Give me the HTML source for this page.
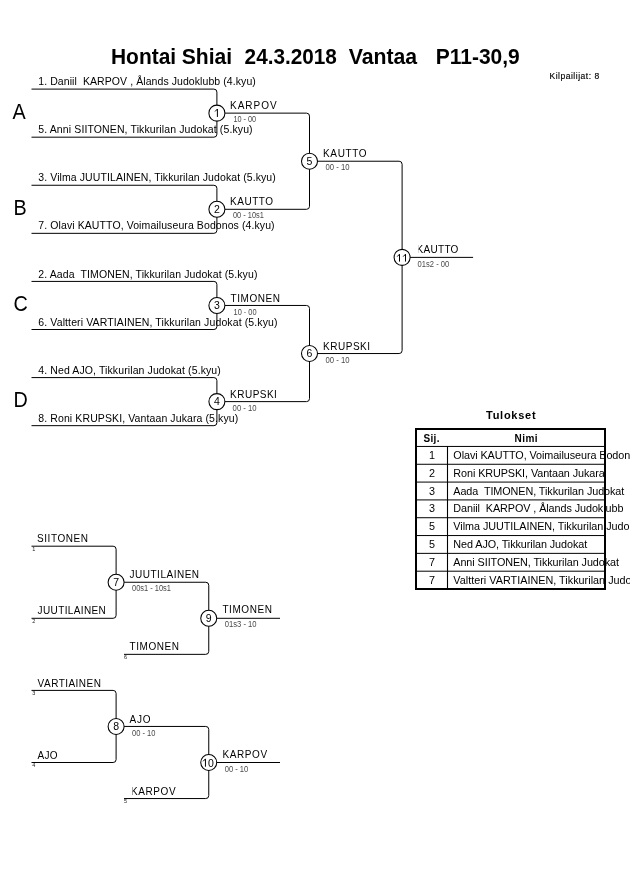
<!DOCTYPE html>
<html><head><meta charset="utf-8"><style>
html,body{margin:0;padding:0;background:#fff;width:630px;height:891px;overflow:hidden}
svg{position:absolute;left:0;top:0;font-family:"Liberation Sans", sans-serif} text{white-space:pre} svg{will-change:transform}
</style></head><body>
<svg width="630" height="891" viewBox="0 0 630 891">
<text x="111.00" y="64.00" font-size="22" font-weight="700" fill="#000" textLength="65.1" lengthAdjust="spacingAndGlyphs">Hontai</text>
<text x="181.70" y="64.00" font-size="22" font-weight="700" fill="#000" textLength="50.4" lengthAdjust="spacingAndGlyphs">Shiai</text>
<text x="244.60" y="64.00" font-size="22" font-weight="700" fill="#000" textLength="92.3" lengthAdjust="spacingAndGlyphs">24.3.2018</text>
<text x="348.70" y="64.00" font-size="22" font-weight="700" fill="#000" textLength="68.5" lengthAdjust="spacingAndGlyphs">Vantaa</text>
<text x="435.70" y="64.00" font-size="22" font-weight="700" fill="#000" textLength="84.1" lengthAdjust="spacingAndGlyphs">P11-30,9</text>
<text x="549.50" y="79.00" font-size="8.5" font-weight="400" fill="#000" textLength="49.7" lengthAdjust="spacing" stroke="#000" stroke-width="0.15">Kilpailijat: 8</text>
<text x="38.30" y="85.00" font-size="10.5" font-weight="400" fill="#000" textLength="217.5" lengthAdjust="spacing">1. Daniil  KARPOV , Ålands Judoklubb (4.kyu)</text>
<text x="38.30" y="133.00" font-size="10.5" font-weight="400" fill="#000" textLength="214.3" lengthAdjust="spacing">5. Anni SIITONEN, Tikkurilan Judokat (5.kyu)</text>
<text x="38.30" y="181.00" font-size="10.5" font-weight="400" fill="#000" textLength="237.5" lengthAdjust="spacing">3. Vilma JUUTILAINEN, Tikkurilan Judokat (5.kyu)</text>
<text x="38.30" y="229.00" font-size="10.5" font-weight="400" fill="#000" textLength="236.3" lengthAdjust="spacing">7. Olavi KAUTTO, Voimailuseura Bodonos (4.kyu)</text>
<text x="38.30" y="278.00" font-size="10.5" font-weight="400" fill="#000" textLength="219.1" lengthAdjust="spacing">2. Aada  TIMONEN, Tikkurilan Judokat (5.kyu)</text>
<text x="38.30" y="326.00" font-size="10.5" font-weight="400" fill="#000" textLength="239.2" lengthAdjust="spacing">6. Valtteri VARTIAINEN, Tikkurilan Judokat (5.kyu)</text>
<text x="38.30" y="374.00" font-size="10.5" font-weight="400" fill="#000" textLength="182.5" lengthAdjust="spacing">4. Ned AJO, Tikkurilan Judokat (5.kyu)</text>
<text x="38.30" y="422.00" font-size="10.5" font-weight="400" fill="#000" textLength="199.9" lengthAdjust="spacing">8. Roni KRUPSKI, Vantaan Jukara (5.kyu)</text>
<text transform="translate(12.6,119) scale(0.9,1)" font-size="22">A</text>
<text transform="translate(13.5,215) scale(0.9,1)" font-size="22">B</text>
<text transform="translate(13.5,311) scale(0.9,1)" font-size="22">C</text>
<text transform="translate(13.5,407) scale(0.9,1)" font-size="22">D</text>
<text x="230.00" y="109.00" font-size="10" font-weight="400" fill="#000" textLength="46.7" lengthAdjust="spacing">KARPOV</text>
<text x="233.40" y="122.00" font-size="8.5" font-weight="400" fill="#4a4a4a" textLength="22.8" lengthAdjust="spacingAndGlyphs">10 - 00</text>
<text x="230.10" y="205.00" font-size="10" font-weight="400" fill="#000" textLength="42.9" lengthAdjust="spacing">KAUTTO</text>
<text x="233.00" y="218.00" font-size="8.5" font-weight="400" fill="#4a4a4a" textLength="30.8" lengthAdjust="spacingAndGlyphs">00 - 10s1</text>
<text x="230.50" y="302.00" font-size="10" font-weight="400" fill="#000" textLength="49.5" lengthAdjust="spacing">TIMONEN</text>
<text x="233.50" y="315.00" font-size="8.5" font-weight="400" fill="#4a4a4a" textLength="23.1" lengthAdjust="spacingAndGlyphs">10 - 00</text>
<text x="230.10" y="398.00" font-size="10" font-weight="400" fill="#000" textLength="46.8" lengthAdjust="spacing">KRUPSKI</text>
<text x="232.60" y="411.00" font-size="8.5" font-weight="400" fill="#4a4a4a" textLength="24.0" lengthAdjust="spacingAndGlyphs">00 - 10</text>
<text x="323.10" y="157.00" font-size="10" font-weight="400" fill="#000" textLength="43.4" lengthAdjust="spacing">KAUTTO</text>
<text x="325.50" y="170.00" font-size="8.5" font-weight="400" fill="#4a4a4a" textLength="24.0" lengthAdjust="spacingAndGlyphs">00 - 10</text>
<text x="323.10" y="350.00" font-size="10" font-weight="400" fill="#000" textLength="46.9" lengthAdjust="spacing">KRUPSKI</text>
<text x="325.50" y="363.00" font-size="8.5" font-weight="400" fill="#4a4a4a" textLength="24.0" lengthAdjust="spacingAndGlyphs">00 - 10</text>
<text x="416.60" y="253.00" font-size="10" font-weight="400" fill="#000" textLength="41.8" lengthAdjust="spacing">KAUTTO</text>
<text x="417.60" y="267.00" font-size="8.5" font-weight="400" fill="#4a4a4a" textLength="31.6" lengthAdjust="spacingAndGlyphs">01s2 - 00</text>
<text x="32.30" y="550.80" font-size="5.5" font-weight="400" fill="#222">1</text>
<text x="32.30" y="622.90" font-size="5.5" font-weight="400" fill="#222">2</text>
<text x="123.90" y="658.95" font-size="5.5" font-weight="400" fill="#222">6</text>
<text x="32.30" y="695.00" font-size="5.5" font-weight="400" fill="#222">3</text>
<text x="32.30" y="767.10" font-size="5.5" font-weight="400" fill="#222">4</text>
<text x="123.90" y="803.15" font-size="5.5" font-weight="400" fill="#222">5</text>
<text x="37.00" y="542.00" font-size="10" font-weight="400" fill="#000" textLength="51.1" lengthAdjust="spacing">SIITONEN</text>
<text x="37.60" y="614.00" font-size="10" font-weight="400" fill="#000" textLength="68.2" lengthAdjust="spacing">JUUTILAINEN</text>
<text x="129.50" y="578.00" font-size="10" font-weight="400" fill="#000" textLength="69.6" lengthAdjust="spacing">JUUTILAINEN</text>
<text x="222.40" y="613.00" font-size="10" font-weight="400" fill="#000" textLength="49.5" lengthAdjust="spacing">TIMONEN</text>
<text x="129.50" y="650.00" font-size="10" font-weight="400" fill="#000" textLength="49.6" lengthAdjust="spacing">TIMONEN</text>
<text x="37.60" y="687.00" font-size="10" font-weight="400" fill="#000" textLength="63.3" lengthAdjust="spacing">VARTIAINEN</text>
<text x="37.60" y="759.00" font-size="10" font-weight="400" fill="#000" textLength="20.0" lengthAdjust="spacing">AJO</text>
<text x="129.50" y="723.00" font-size="10" font-weight="400" fill="#000" textLength="21.0" lengthAdjust="spacing">AJO</text>
<text x="222.40" y="758.00" font-size="10" font-weight="400" fill="#000" textLength="44.7" lengthAdjust="spacing">KARPOV</text>
<text x="130.90" y="795.00" font-size="10" font-weight="400" fill="#000" textLength="44.7" lengthAdjust="spacing">KARPOV</text>
<text x="132.00" y="591.00" font-size="8.5" font-weight="400" fill="#4a4a4a" textLength="38.9" lengthAdjust="spacingAndGlyphs">00s1 - 10s1</text>
<text x="224.80" y="627.00" font-size="8.5" font-weight="400" fill="#4a4a4a" textLength="31.8" lengthAdjust="spacingAndGlyphs">01s3 - 10</text>
<text x="132.00" y="736.00" font-size="8.5" font-weight="400" fill="#4a4a4a" textLength="23.4" lengthAdjust="spacingAndGlyphs">00 - 10</text>
<text x="224.70" y="772.00" font-size="8.5" font-weight="400" fill="#4a4a4a" textLength="23.6" lengthAdjust="spacingAndGlyphs">00 - 10</text>
<text x="486.00" y="419.00" font-size="11" font-weight="700" fill="#000" textLength="49.6" lengthAdjust="spacing">Tulokset</text>
<text x="423.50" y="441.50" font-size="10" font-weight="700" fill="#000" textLength="16.0" lengthAdjust="spacing">Sij.</text>
<text x="514.50" y="441.50" font-size="10" font-weight="700" fill="#000" textLength="23.0" lengthAdjust="spacing">Nimi</text>
<text x="432.00" y="458.90" font-size="10.8" font-weight="400" fill="#000" text-anchor="middle">1</text>
<text x="453.30" y="458.90" font-size="10.8" font-weight="400" fill="#000" textLength="188.2" lengthAdjust="spacing">Olavi KAUTTO, Voimailuseura Bodonos</text>
<text x="432.00" y="476.72" font-size="10.8" font-weight="400" fill="#000" text-anchor="middle">2</text>
<text x="453.30" y="476.72" font-size="10.8" font-weight="400" fill="#000" textLength="151.5" lengthAdjust="spacing">Roni KRUPSKI, Vantaan Jukara</text>
<text x="432.00" y="494.54" font-size="10.8" font-weight="400" fill="#000" text-anchor="middle">3</text>
<text x="453.30" y="494.54" font-size="10.8" font-weight="400" fill="#000" textLength="171.0" lengthAdjust="spacing">Aada  TIMONEN, Tikkurilan Judokat</text>
<text x="432.00" y="512.36" font-size="10.8" font-weight="400" fill="#000" text-anchor="middle">3</text>
<text x="453.30" y="512.36" font-size="10.8" font-weight="400" fill="#000" textLength="170.1" lengthAdjust="spacing">Daniil  KARPOV , Ålands Judoklubb</text>
<text x="432.00" y="530.18" font-size="10.8" font-weight="400" fill="#000" text-anchor="middle">5</text>
<text x="453.30" y="530.18" font-size="10.8" font-weight="400" fill="#000" textLength="190.5" lengthAdjust="spacing">Vilma JUUTILAINEN, Tikkurilan Judokat</text>
<text x="432.00" y="548.00" font-size="10.8" font-weight="400" fill="#000" text-anchor="middle">5</text>
<text x="453.30" y="548.00" font-size="10.8" font-weight="400" fill="#000" textLength="133.9" lengthAdjust="spacing">Ned AJO, Tikkurilan Judokat</text>
<text x="432.00" y="565.82" font-size="10.8" font-weight="400" fill="#000" text-anchor="middle">7</text>
<text x="453.30" y="565.82" font-size="10.8" font-weight="400" fill="#000" textLength="165.7" lengthAdjust="spacing">Anni SIITONEN, Tikkurilan Judokat</text>
<text x="432.00" y="583.64" font-size="10.8" font-weight="400" fill="#000" text-anchor="middle">7</text>
<text x="453.30" y="583.64" font-size="10.8" font-weight="400" fill="#000" textLength="192.8" lengthAdjust="spacing">Valtteri VARTIAINEN, Tikkurilan Judokat</text>
<rect x="417" y="244" width="1.4" height="10" fill="#fff"/>
<rect x="131" y="786" width="1.5" height="10" fill="#fff"/>
<path d="M31.50 89.10 H213.90 Q216.90 89.10 216.90 92.10 V134.18 Q216.90 137.18 213.90 137.18 H31.50" fill="none" stroke="#000" stroke-width="1.0"/>
<path d="M31.50 185.26 H213.90 Q216.90 185.26 216.90 188.26 V230.34 Q216.90 233.34 213.90 233.34 H31.50" fill="none" stroke="#000" stroke-width="1.0"/>
<path d="M31.50 281.42 H213.90 Q216.90 281.42 216.90 284.42 V326.50 Q216.90 329.50 213.90 329.50 H31.50" fill="none" stroke="#000" stroke-width="1.0"/>
<path d="M31.50 377.58 H213.90 Q216.90 377.58 216.90 380.58 V422.66 Q216.90 425.66 213.90 425.66 H31.50" fill="none" stroke="#000" stroke-width="1.0"/>
<path d="M216.90 113.14 H306.50 Q309.50 113.14 309.50 116.14 V206.30 Q309.50 209.30 306.50 209.30 H216.90" fill="none" stroke="#000" stroke-width="1.0"/>
<path d="M216.90 305.46 H306.50 Q309.50 305.46 309.50 308.46 V398.62 Q309.50 401.62 306.50 401.62 H216.90" fill="none" stroke="#000" stroke-width="1.0"/>
<path d="M309.50 161.22 H399.10 Q402.10 161.22 402.10 164.22 V350.54 Q402.10 353.54 399.10 353.54 H309.50" fill="none" stroke="#000" stroke-width="1.0"/>
<path d="M402.10 257.38 H473.10" fill="none" stroke="#000" stroke-width="1.0"/>
<path d="M31.50 546.20 H113.10 Q116.10 546.20 116.10 549.20 V615.30 Q116.10 618.30 113.10 618.30 H31.50" fill="none" stroke="#000" stroke-width="1.0"/>
<path d="M124.00 582.25 H205.75 Q208.75 582.25 208.75 585.25 V651.35 Q208.75 654.35 205.75 654.35 H124.00" fill="none" stroke="#000" stroke-width="1.0"/>
<path d="M208.75 618.30 H280.00" fill="none" stroke="#000" stroke-width="1.0"/>
<path d="M31.50 690.40 H113.10 Q116.10 690.40 116.10 693.40 V759.50 Q116.10 762.50 113.10 762.50 H31.50" fill="none" stroke="#000" stroke-width="1.0"/>
<path d="M124.00 726.45 H205.75 Q208.75 726.45 208.75 729.45 V795.55 Q208.75 798.55 205.75 798.55 H124.00" fill="none" stroke="#000" stroke-width="1.0"/>
<path d="M208.75 762.50 H280.00" fill="none" stroke="#000" stroke-width="1.0"/>
<circle cx="216.90" cy="113.14" r="8.0" fill="#fff" stroke="#000" stroke-width="1.05"/>
<path d="M215.10 111.44 L217.40 109.04 V116.94" fill="none" stroke="#000" stroke-width="1.0"/>
<circle cx="216.90" cy="209.30" r="8.0" fill="#fff" stroke="#000" stroke-width="1.05"/>
<text x="216.90" y="213.10" font-size="10.5" text-anchor="middle" fill="#000">2</text>
<circle cx="216.90" cy="305.46" r="8.0" fill="#fff" stroke="#000" stroke-width="1.05"/>
<text x="216.90" y="309.26" font-size="10.5" text-anchor="middle" fill="#000">3</text>
<circle cx="216.90" cy="401.62" r="8.0" fill="#fff" stroke="#000" stroke-width="1.05"/>
<text x="216.90" y="405.42" font-size="10.5" text-anchor="middle" fill="#000">4</text>
<circle cx="309.50" cy="161.22" r="8.0" fill="#fff" stroke="#000" stroke-width="1.05"/>
<text x="309.50" y="165.02" font-size="10.5" text-anchor="middle" fill="#000">5</text>
<circle cx="309.50" cy="353.54" r="8.0" fill="#fff" stroke="#000" stroke-width="1.05"/>
<text x="309.50" y="357.34" font-size="10.5" text-anchor="middle" fill="#000">6</text>
<circle cx="402.10" cy="257.38" r="8.0" fill="#fff" stroke="#000" stroke-width="1.05"/>
<path d="M397.20 256.58 L399.50 254.18 V261.58" fill="none" stroke="#000" stroke-width="1.0"/>
<path d="M403.20 256.58 L405.50 254.18 V261.58" fill="none" stroke="#000" stroke-width="1.0"/>
<circle cx="116.10" cy="582.25" r="8.0" fill="#fff" stroke="#000" stroke-width="1.05"/>
<text x="116.10" y="586.05" font-size="10.5" text-anchor="middle" fill="#000">7</text>
<circle cx="208.75" cy="618.30" r="8.0" fill="#fff" stroke="#000" stroke-width="1.05"/>
<text x="208.75" y="622.10" font-size="10.5" text-anchor="middle" fill="#000">9</text>
<circle cx="116.10" cy="726.45" r="8.0" fill="#fff" stroke="#000" stroke-width="1.05"/>
<text x="116.10" y="730.25" font-size="10.5" text-anchor="middle" fill="#000">8</text>
<circle cx="208.75" cy="762.50" r="8.0" fill="#fff" stroke="#000" stroke-width="1.05"/>
<path d="M203.15 761.30 L205.45 758.90 V766.70" fill="none" stroke="#000" stroke-width="1.0"/>
<text x="211.00" y="766.70" font-size="10.5" text-anchor="middle" fill="#000">0</text>
<path d="M416 446.45 H604" stroke="#000" stroke-width="1.0"/>
<path d="M416 464.27 H604" stroke="#000" stroke-width="1.0"/>
<path d="M416 482.09 H604" stroke="#000" stroke-width="1.0"/>
<path d="M416 499.91 H604" stroke="#000" stroke-width="1.0"/>
<path d="M416 517.73 H604" stroke="#000" stroke-width="1.0"/>
<path d="M416 535.55 H604" stroke="#000" stroke-width="1.0"/>
<path d="M416 553.37 H604" stroke="#000" stroke-width="1.0"/>
<path d="M416 571.19 H604" stroke="#000" stroke-width="1.0"/>
<path d="M447.5 446 V589" stroke="#000" stroke-width="1.1"/>
<rect x="416" y="429" width="189" height="160" fill="none" stroke="#000" stroke-width="2"/>
</svg>
</body></html>
